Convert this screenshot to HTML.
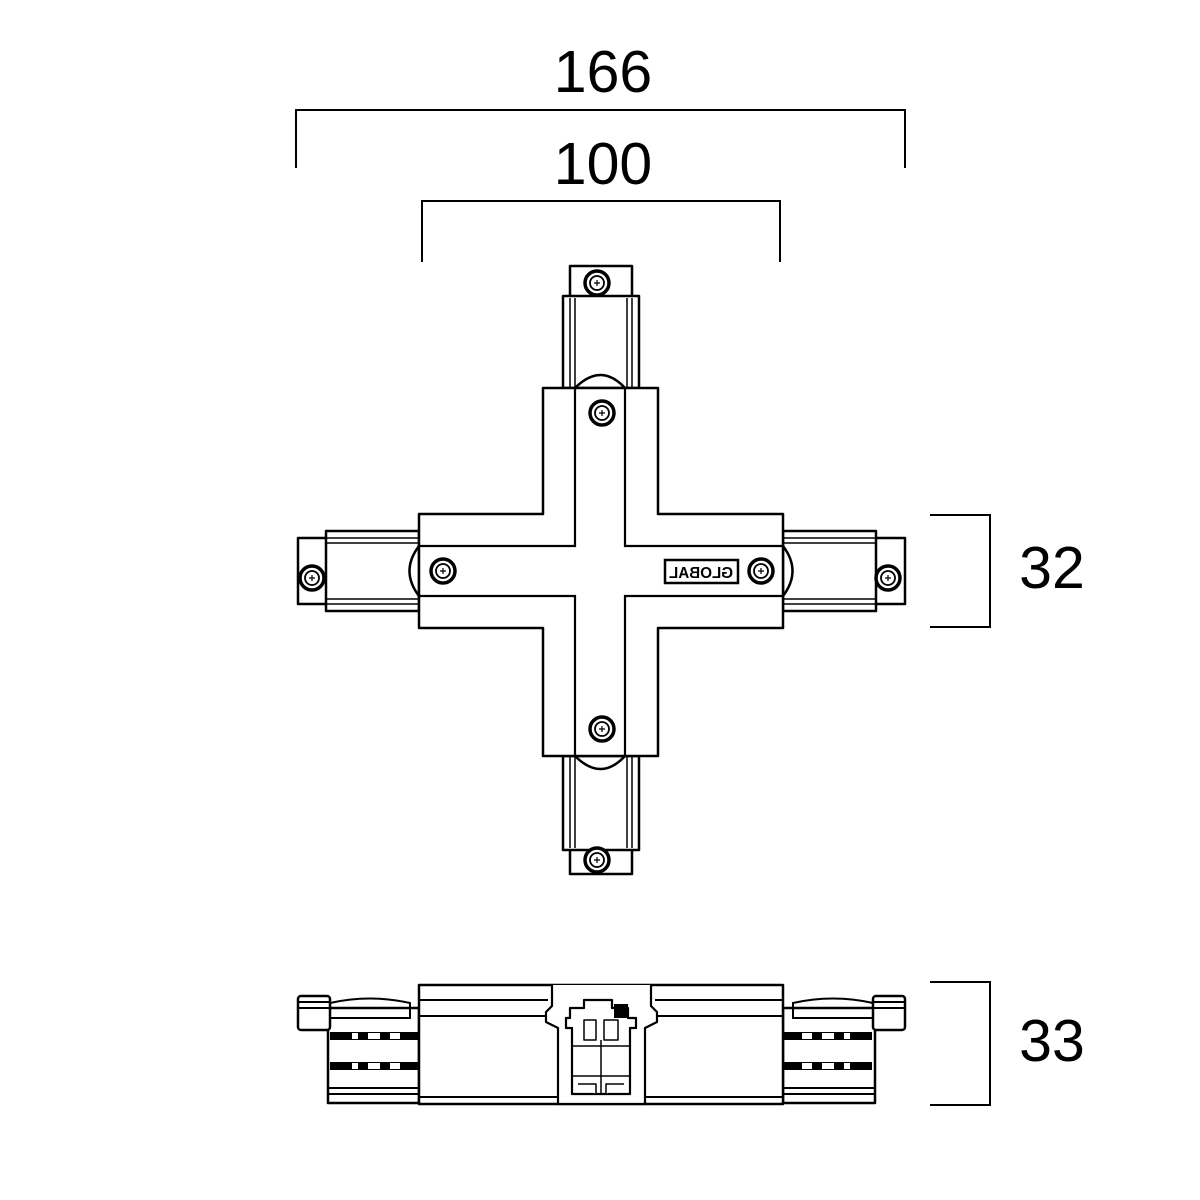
<!DOCTYPE html>
<html><head><meta charset="utf-8"><style>
html,body{margin:0;padding:0;background:#fff}
svg{display:block}
text{font-family:"Liberation Sans",sans-serif;fill:#000}
</style></head><body>
<svg width="1200" height="1200" viewBox="0 0 1200 1200" xmlns="http://www.w3.org/2000/svg">
<defs>
<g id="screw"><circle r="12" fill="#fff" stroke="#000" stroke-width="3.5"/><circle r="7" fill="none" stroke="#000" stroke-width="1.8"/><path d="M-3 0H3M0 -3V3" stroke="#000" stroke-width="1.2"/></g>
</defs>
<g fill="none" stroke="#000" stroke-width="2">
<path d="M296 168V110H905V168"/>
<path d="M422 262V201H780V262"/>
<path d="M930 515H990V627H930"/>
<path d="M930 982H990V1105H930"/>
</g>
<text x="603" y="92" font-size="59" text-anchor="middle">166</text>
<text x="603" y="184" font-size="59" text-anchor="middle">100</text>
<text x="1052" y="588" font-size="59" text-anchor="middle">32</text>
<text x="1052" y="1061" font-size="59" text-anchor="middle">33</text>

<g fill="#fff" stroke="#000" stroke-width="2.5" stroke-linejoin="round">
<rect x="570" y="266" width="62" height="32"/>
<rect x="563" y="296" width="76" height="92"/>
<path d="M570 298V388M632 298V388M575 298V388M627 298V388" stroke-width="1.5"/>
<rect x="570" y="848" width="62" height="26"/>
<rect x="563" y="756" width="76" height="94"/>
<path d="M570 756V848M632 756V848M575 756V848M627 756V848" stroke-width="1.5"/>
<rect x="298" y="538" width="30" height="66"/>
<rect x="326" y="531" width="93" height="80"/>
<path d="M326 538H419M326 604H419M326 543H419M326 599H419" stroke-width="1.5"/>
<rect x="874" y="538" width="31" height="66"/>
<rect x="783" y="531" width="93" height="80"/>
<path d="M783 538H876M783 604H876M783 543H876M783 599H876" stroke-width="1.5"/>
<path d="M575 388Q601 362 625 388Z"/>
<path d="M575 756Q601 782 625 756Z"/>
<path d="M419 546Q400 571 419 596Z"/>
<path d="M783 546Q802 571 783 596Z"/>
<path d="M543 388H658V514H783V628H658V756H543V628H419V514H543Z"/>
</g>
<g fill="none" stroke="#000" stroke-width="2.2">
<path d="M575 388V546H419M625 388V546H783M575 756V596H419M625 756V596H783"/>
</g>
<use href="#screw" x="597" y="283"/>
<use href="#screw" x="602" y="413"/>
<use href="#screw" x="602" y="729"/>
<use href="#screw" x="597" y="860"/>
<use href="#screw" x="443" y="571"/>
<use href="#screw" x="761" y="571"/>
<use href="#screw" x="312" y="578"/>
<use href="#screw" x="888" y="578"/>
<rect x="665" y="560" width="73" height="23" fill="#fff" stroke="#000" stroke-width="2.5"/>
<text x="701" y="578" font-size="16" font-weight="bold" text-anchor="middle" textLength="64" lengthAdjust="spacingAndGlyphs" transform="scale(-1,1) translate(-1402,0)">GLOBAL</text>

<!-- side view -->
<g fill="#fff" stroke="#000" stroke-width="2.5" stroke-linejoin="round">
<rect x="328" y="1008" width="91" height="95"/>
<rect x="783" y="1008" width="92" height="95"/>
<rect x="298" y="996" width="32" height="34" rx="3"/>
<rect x="873" y="996" width="32" height="34" rx="3"/>
<rect x="419" y="985" width="364" height="119"/>
</g>
<g fill="none" stroke="#000" stroke-width="2">
<path d="M298 1002H330M298 1008H330M905 1002H873M905 1008H873"/>
<path d="M330 1003Q370 994 410 1003V1018H330M873 1003Q833 994 793 1003V1018H873"/>
<path d="M419 1000H548M419 1016H548M655 1000H783M655 1016H783M419 1097H783"/>
<path d="M328 1088H419M783 1088H875M328 1094H419M783 1094H875"/>
</g>
<g fill="#000">
<rect x="330" y="1032" width="88" height="8"/>
<rect x="330" y="1062" width="88" height="8"/>
<rect x="784" y="1032" width="88" height="8"/>
<rect x="784" y="1062" width="88" height="8"/>
</g>
<g fill="#fff">
<rect x="352" y="1033" width="6" height="6"/><rect x="368" y="1033" width="12" height="6"/><rect x="390" y="1033" width="10" height="6"/>
<rect x="352" y="1063" width="6" height="6"/><rect x="368" y="1063" width="12" height="6"/><rect x="390" y="1063" width="10" height="6"/>
<rect x="844" y="1033" width="6" height="6"/><rect x="822" y="1033" width="12" height="6"/><rect x="802" y="1033" width="10" height="6"/>
<rect x="844" y="1063" width="6" height="6"/><rect x="822" y="1063" width="12" height="6"/><rect x="802" y="1063" width="10" height="6"/>
</g>
<g fill="#fff" stroke="#000" stroke-width="2.2" stroke-linejoin="round">
<path d="M552 985V1006L546 1012V1022L558 1028V1104H645V1028L657 1022V1012L651 1006V985"/>
<path d="M570 1008H584V1000H612V1008H628V1018H636V1028H630V1094H572V1028H566V1018H570Z"/>
<path d="M584 1020H596V1040H584ZM604 1020H618V1040H604Z" stroke-width="1.5"/>
<path d="M572 1046H630M572 1076H630M601 1040V1094" stroke-width="1.5"/>
<path d="M578 1084H596V1094M624 1084H606V1094" stroke-width="1.5"/>
</g>
<rect x="614" y="1004" width="14" height="14" fill="#000"/>
</svg>
</body></html>
